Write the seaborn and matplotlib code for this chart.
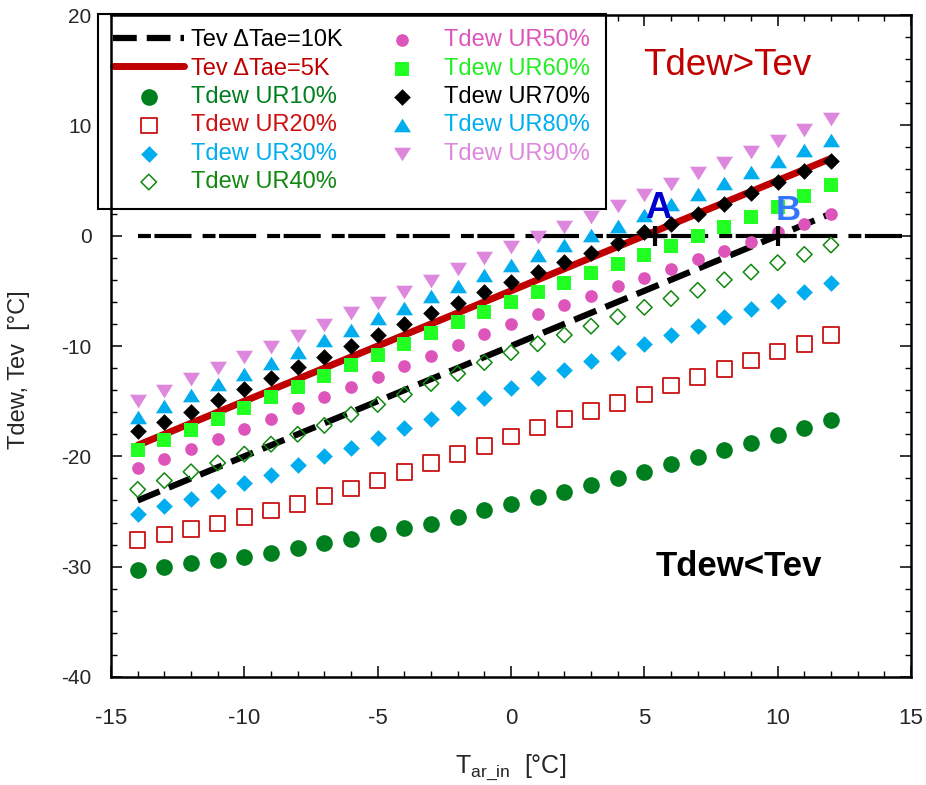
import matplotlib
matplotlib.use("Agg")
import matplotlib.pyplot as plt
import seaborn as sns
from matplotlib import font_manager
from matplotlib.ticker import MultipleLocator

# ---------------- data ----------------
t_in = list(range(-14, 13))

ur10 = [-30.3, -30.0, -29.7, -29.4, -29.1, -28.75, -28.35, -27.9, -27.5, -27.05, -26.5, -26.1, -25.5, -24.9,
        -24.3, -23.7, -23.2, -22.6, -22.0, -21.4, -20.7, -20.1, -19.4, -18.8, -18.1, -17.4, -16.7]
ur20 = [-27.6, -27.1, -26.6, -26.1, -25.5, -24.9, -24.3, -23.6, -22.9, -22.2, -21.4, -20.6, -19.8, -19.05,
        -18.2, -17.4, -16.6, -15.9, -15.15, -14.4, -13.6, -12.8, -12.1, -11.3, -10.5, -9.8, -9.0]
ur30 = [-25.2, -24.5, -23.85, -23.15, -22.45, -21.7, -20.8, -20.0, -19.2, -18.3, -17.4, -16.6, -15.65, -14.75,
        -13.85, -12.9, -12.2, -11.4, -10.6, -9.8, -9.0, -8.2, -7.4, -6.65, -5.9, -5.15, -4.3]
ur40 = [-23.0, -22.2, -21.4, -20.6, -19.8, -18.9, -18.0, -17.2, -16.2, -15.3, -14.4, -13.4, -12.5, -11.5,
        -10.6, -9.8, -9.0, -8.2, -7.35, -6.5, -5.7, -4.95, -4.0, -3.3, -2.45, -1.7, -0.85]
ur50 = [-21.1, -20.2, -19.3, -18.4, -17.5, -16.6, -15.65, -14.65, -13.75, -12.8, -11.8, -10.9, -9.9, -8.95,
        -8.05, -7.1, -6.3, -5.5, -4.6, -3.8, -3.0, -2.15, -1.35, -0.55, 0.35, 1.05, 2.0]
ur60 = [-19.4, -18.5, -17.6, -16.6, -15.65, -14.65, -13.75, -12.7, -11.7, -10.8, -9.8, -8.85, -7.85, -6.95,
        -6.0, -5.15, -4.25, -3.4, -2.6, -1.75, -0.9, -0.05, 0.8, 1.7, 2.6, 3.6, 4.6]
ur70 = [-17.7, -16.85, -15.95, -14.9, -13.9, -12.9, -11.9, -11.0, -10.0, -9.0, -8.05, -7.05, -6.1, -5.15,
        -4.2, -3.3, -2.4, -1.55, -0.7, 0.3, 1.05, 2.0, 2.9, 3.9, 4.9, 5.85, 6.75]
ur80 = [-16.4, -15.45, -14.45, -13.45, -12.5, -11.5, -10.5, -9.5, -8.55, -7.5, -6.6, -5.5, -4.6, -3.6,
        -2.65, -1.75, -0.85, 0.05, 0.9, 1.9, 2.9, 3.8, 4.8, 5.8, 6.8, 7.75, 8.7]
ur90 = [-15.0, -14.05, -13.0, -12.0, -11.0, -10.05, -9.1, -8.1, -7.05, -6.1, -5.1, -4.1, -3.05, -2.05,
        -1.05, -0.1, 0.8, 1.7, 2.7, 3.7, 4.7, 5.65, 6.6, 7.6, 8.6, 9.6, 10.6]

tev_x = [-14, 12]
tev10 = [-24, 2]
tev5 = [-19, 7]

zero_x = [-14, 15]
zero_y = [0, 0]

pts_label = ["A", "B"]
pts_x = [5.4, 10.0]
pts_y = [0.0, 0.0]

# ---------------- style ----------------
sns.set_theme(style="white")
avail = {f.name for f in font_manager.fontManager.ttflist}
base = "Liberation Sans" if "Liberation Sans" in avail else "DejaVu Sans"
narrow = "Liberation Sans Narrow" if "Liberation Sans Narrow" in avail else base
plt.rcParams["font.family"] = [base, "DejaVu Sans"]
plt.rcParams["axes.unicode_minus"] = False
plt.rcParams["mathtext.fontset"] = "custom"
plt.rcParams["mathtext.rm"] = narrow
plt.rcParams["mathtext.it"] = narrow

fig = plt.figure(figsize=(9.26, 7.85), dpi=100)
ax = fig.add_axes([111 / 926, 1 - 677 / 785, 800 / 926, 662 / 785])

# lines
sns.lineplot(x=zero_x, y=zero_y, ax=ax, color="black", linewidth=3.0,
             linestyle=(0, (3.1, 0.85, 8.9, 2.65)), zorder=2)
sns.lineplot(x=tev_x, y=tev10, ax=ax, color="black", linewidth=4.5,
             linestyle=(0, (3.8, 1.6)), label="Tev \u0394Tae=10K", zorder=2)
sns.lineplot(x=tev_x, y=tev5, ax=ax, color="#C00000", linewidth=5.0,
             label="Tev \u0394Tae=5K", zorder=2)

tri_up = [(0, 0.8), (-1, -0.8), (1, -0.8), (0, 0.8)]
tri_dn = [(0, -0.8), (-1, 0.8), (1, 0.8), (0, -0.8)]

series = [
    ("Tdew UR10%", ur10, dict(marker="o", s=144, color="#007F1F", linewidth=0), "#007F1F"),
    ("Tdew UR20%", ur20, dict(marker="s", s=125, facecolor="none", edgecolor="#CC1111", linewidth=1.3), "#CC1111"),
    ("Tdew UR30%", ur30, dict(marker="D", s=72, color="#00AEEF", linewidth=0), "#00AEEF"),
    ("Tdew UR40%", ur40, dict(marker="D", s=62, facecolor="none", edgecolor="#118811", linewidth=1.1), "#118811"),
    ("Tdew UR50%", ur50, dict(marker="o", s=83, color="#DD55BB", linewidth=0), "#DD55BB"),
    ("Tdew UR60%", ur60, dict(marker="s", s=92, color="#22FF22", linewidth=0), "#22EE22"),
    ("Tdew UR70%", ur70, dict(marker="D", s=72, color="black", linewidth=0), "black"),
    ("Tdew UR80%", ur80, dict(marker=tri_up, s=150, color="#00AEEF", linewidth=0), "#00AEEF"),
    ("Tdew UR90%", ur90, dict(marker=tri_dn, s=150, color="#DD88DD", linewidth=0), "#DD88DD"),
]
text_colors = ["black", "#C00000"]
for lab, vals, kw, tc in series:
    sns.scatterplot(x=t_in, y=vals, ax=ax, label=lab, zorder=3, **kw)
    text_colors.append(tc)

sns.scatterplot(x=pts_x, y=pts_y, ax=ax, marker="+", s=210, color="black", linewidth=3.0, zorder=4)

# annotations
ax.text(8.1, 14.56, "Tdew>Tev", color="#C00000", fontsize=26.5, ha="center", va="baseline")
ax.text(8.55, -29.95, "Tdew<Tev", color="black", fontsize=25, fontweight="bold", ha="center", va="center")
ax.text(5.51, 1.6, pts_label[0], color="#0000CC", fontsize=26, fontweight="bold", ha="center", va="baseline")
ax.text(10.39, 1.42, pts_label[1], color="#3377FF", fontsize=25, fontweight="bold", ha="center", va="baseline")

# axes
ax.set_xlim(-15, 15)
ax.set_ylim(-40, 20)
ax.xaxis.set_major_locator(MultipleLocator(5))
ax.xaxis.set_minor_locator(MultipleLocator(1))
ax.yaxis.set_major_locator(MultipleLocator(10))
ax.yaxis.set_minor_locator(MultipleLocator(2))
ax.tick_params(which="both", direction="in", top=True, right=True, bottom=True, left=True, color="black")
ax.tick_params(which="major", length=8, width=1.1)
ax.tick_params(which="minor", length=4.3, width=1.0)
ax.tick_params(axis="x", which="major", pad=22, labelsize=16)
ax.tick_params(axis="y", which="major", pad=14, labelsize=15)
for lbl in ax.get_xticklabels():
    lbl.set_fontfamily([narrow, "DejaVu Sans"])
for sp in ax.spines.values():
    sp.set_color("black")
    sp.set_linewidth(1.8)

ax.set_xlabel(r"$\mathregular{T_{ar\_in}}$  [°C]", fontsize=18, family=[narrow, "DejaVu Sans"])
ax.set_ylabel("Tdew, Tev  [°C]", fontsize=17, family=[narrow, "DejaVu Sans"])
ax.xaxis.set_label_coords(0.5, -0.113)
ax.yaxis.set_label_coords(-0.101, 0.464)

leg = ax.legend(ncol=2, loc="upper left", bbox_to_anchor=(98 / 926, 1 - 14 / 785),
                bbox_transform=fig.transFigure, borderaxespad=0, fontsize=17,
                frameon=True, fancybox=False, edgecolor="black", framealpha=1,
                handlelength=3.0, handletextpad=0.3, columnspacing=1.0,
                labelspacing=0.27, borderpad=0.65, scatterpoints=1)
leg.get_frame().set_linewidth(1.5)
leg.set_zorder(1)
for txt, c in zip(leg.get_texts(), text_colors):
    txt.set_color(c)

fig.savefig("out.png", dpi=100)
